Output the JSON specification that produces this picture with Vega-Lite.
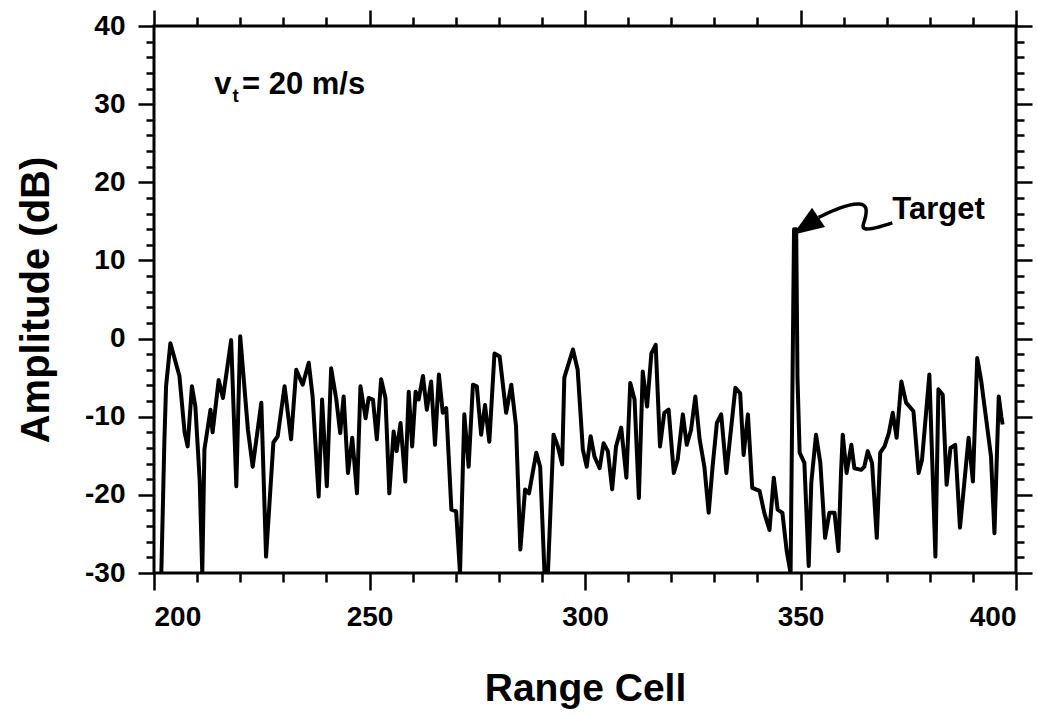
{
  "$schema": "https://vega.github.io/schema/vega-lite/v6.json",
  "width": 862,
  "height": 547,
  "autosize": "none",
  "padding": {"left": 154, "top": 26, "right": 21, "bottom": 144},
  "background": "white",
  "config": {
    "view": {"stroke": "black", "strokeWidth": 3},
    "axis": {"grid": false, "domain": false, "tickColor": "black", "tickWidth": 2.5, "labelColor": "black", "titleColor": "black", "labelFont": "Liberation Sans", "titleFont": "Liberation Sans", "labelFontWeight": "bold", "titleFontWeight": "bold", "labelExpr": "'' + datum.value"}
  },
  "datasets": {
    "sig": [
      {"cell": 201.7, "amp": -30}, {"cell": 202.4, "amp": -13.3}, {"cell": 202.8, "amp": -6.1}, {"cell": 203.8, "amp": -0.6},
      {"cell": 205.9, "amp": -4.8}, {"cell": 207.1, "amp": -12}, {"cell": 207.8, "amp": -13.8}, {"cell": 208.8, "amp": -6.1},
      {"cell": 209.6, "amp": -8.7}, {"cell": 210.6, "amp": -18.1}, {"cell": 211.2, "amp": -30}, {"cell": 211.7, "amp": -14.2},
      {"cell": 213.1, "amp": -9.1}, {"cell": 213.6, "amp": -12}, {"cell": 215, "amp": -5.3}, {"cell": 216, "amp": -7.6},
      {"cell": 217.9, "amp": -0.2}, {"cell": 219.1, "amp": -18.9}, {"cell": 220, "amp": 0.3}, {"cell": 221.8, "amp": -11.7},
      {"cell": 222.9, "amp": -16.4}, {"cell": 224.9, "amp": -8.2}, {"cell": 226, "amp": -27.9}, {"cell": 227.7, "amp": -13.3},
      {"cell": 228.7, "amp": -12.5}, {"cell": 230.3, "amp": -6.1}, {"cell": 231.8, "amp": -12.9}, {"cell": 233, "amp": -4},
      {"cell": 234.5, "amp": -5.9}, {"cell": 235.9, "amp": -3.1}, {"cell": 236.8, "amp": -7.4}, {"cell": 238.2, "amp": -20.2},
      {"cell": 239, "amp": -7.8}, {"cell": 240.1, "amp": -18.9}, {"cell": 241.1, "amp": -3.8}, {"cell": 242.3, "amp": -7.8},
      {"cell": 243.2, "amp": -12.1}, {"cell": 244, "amp": -7.4}, {"cell": 245, "amp": -17.2}, {"cell": 246, "amp": -12.7},
      {"cell": 247.1, "amp": -19.8}, {"cell": 247.9, "amp": -6.1}, {"cell": 249.1, "amp": -10.2}, {"cell": 249.8, "amp": -7.6},
      {"cell": 250.8, "amp": -7.8}, {"cell": 251.7, "amp": -12.9}, {"cell": 252.7, "amp": -5.2}, {"cell": 253.7, "amp": -7.6},
      {"cell": 254.6, "amp": -19.8}, {"cell": 255.6, "amp": -11.9}, {"cell": 256.3, "amp": -14.4}, {"cell": 257.2, "amp": -10.8},
      {"cell": 258.3, "amp": -18.3}, {"cell": 259.1, "amp": -6.8}, {"cell": 259.9, "amp": -13.8}, {"cell": 260.7, "amp": -6.8},
      {"cell": 261.4, "amp": -7.8}, {"cell": 262.4, "amp": -4.8}, {"cell": 263.3, "amp": -9.1}, {"cell": 264.3, "amp": -5.5},
      {"cell": 265.2, "amp": -13.6}, {"cell": 266.1, "amp": -4.6}, {"cell": 267, "amp": -9.5}, {"cell": 267.8, "amp": -8.9},
      {"cell": 269, "amp": -21.9}, {"cell": 270.1, "amp": -22.1}, {"cell": 271, "amp": -30}, {"cell": 272, "amp": -9.7},
      {"cell": 273, "amp": -16.4}, {"cell": 274, "amp": -5.9}, {"cell": 274.9, "amp": -6.1}, {"cell": 275.9, "amp": -12.3},
      {"cell": 276.8, "amp": -8.5}, {"cell": 277.8, "amp": -13.2}, {"cell": 279, "amp": -1.9}, {"cell": 280.2, "amp": -2.3},
      {"cell": 281.7, "amp": -9.5}, {"cell": 282.9, "amp": -5.9}, {"cell": 284, "amp": -11.2}, {"cell": 285, "amp": -27},
      {"cell": 286.1, "amp": -19.3}, {"cell": 287, "amp": -19.8}, {"cell": 288.7, "amp": -14.6}, {"cell": 289.6, "amp": -16.4},
      {"cell": 290.6, "amp": -30}, {"cell": 291.4, "amp": -30}, {"cell": 292.7, "amp": -12.3}, {"cell": 293.7, "amp": -13.8},
      {"cell": 294.7, "amp": -16.1}, {"cell": 295.2, "amp": -5}, {"cell": 297.2, "amp": -1.4}, {"cell": 298.3, "amp": -4},
      {"cell": 299.5, "amp": -14.2}, {"cell": 300.4, "amp": -16.4}, {"cell": 301.3, "amp": -12.5}, {"cell": 302.2, "amp": -15.1},
      {"cell": 303.4, "amp": -16.6}, {"cell": 304.3, "amp": -13.4}, {"cell": 305.3, "amp": -14.4}, {"cell": 306.3, "amp": -19.3},
      {"cell": 307.2, "amp": -13.8}, {"cell": 308.4, "amp": -11.4}, {"cell": 309.6, "amp": -17.8}, {"cell": 310.5, "amp": -5.7},
      {"cell": 311.5, "amp": -7.8}, {"cell": 312.5, "amp": -20.4}, {"cell": 313.4, "amp": -4.2}, {"cell": 314.4, "amp": -8.7},
      {"cell": 315.4, "amp": -1.9}, {"cell": 316.4, "amp": -0.8}, {"cell": 317.4, "amp": -13.8}, {"cell": 318.4, "amp": -9.5},
      {"cell": 319.4, "amp": -9.1}, {"cell": 320.6, "amp": -17.2}, {"cell": 321.5, "amp": -15.5}, {"cell": 322.7, "amp": -9.7},
      {"cell": 323.6, "amp": -13.6}, {"cell": 324.6, "amp": -11.7}, {"cell": 325.6, "amp": -7.4}, {"cell": 326.6, "amp": -12.9},
      {"cell": 327.7, "amp": -16.4}, {"cell": 328.7, "amp": -22.3}, {"cell": 329.6, "amp": -16.4}, {"cell": 330.6, "amp": -10.8},
      {"cell": 331.6, "amp": -9.7}, {"cell": 332.8, "amp": -17.2}, {"cell": 333.7, "amp": -12.5}, {"cell": 334.9, "amp": -6.3},
      {"cell": 336, "amp": -7}, {"cell": 336.8, "amp": -14.9}, {"cell": 337.8, "amp": -9.7}, {"cell": 338.8, "amp": -19.1},
      {"cell": 340.5, "amp": -19.5}, {"cell": 341.6, "amp": -22.3}, {"cell": 342.8, "amp": -24.5}, {"cell": 343.8, "amp": -17.8},
      {"cell": 344.7, "amp": -21.9}, {"cell": 345.8, "amp": -22.3}, {"cell": 346.8, "amp": -27.2}, {"cell": 347.7, "amp": -30},
      {"cell": 348.5, "amp": 14}, {"cell": 349, "amp": 14}, {"cell": 349.3, "amp": -5}, {"cell": 349.8, "amp": -14.6},
      {"cell": 350.9, "amp": -15.9}, {"cell": 351.9, "amp": -29.1}, {"cell": 352.5, "amp": -18.5}, {"cell": 353.6, "amp": -12.3},
      {"cell": 354.6, "amp": -15.9}, {"cell": 355.7, "amp": -25.5}, {"cell": 356.7, "amp": -22.3}, {"cell": 357.9, "amp": -22.3},
      {"cell": 358.8, "amp": -27.2}, {"cell": 359.4, "amp": -17.2}, {"cell": 359.8, "amp": -12.3}, {"cell": 360.7, "amp": -17.2},
      {"cell": 361.8, "amp": -13.6}, {"cell": 362.5, "amp": -16.6}, {"cell": 364.1, "amp": -16.8}, {"cell": 364.8, "amp": -16.4},
      {"cell": 365.6, "amp": -14.4}, {"cell": 366.6, "amp": -15.9}, {"cell": 367.7, "amp": -25.5}, {"cell": 368.5, "amp": -14.6},
      {"cell": 369.5, "amp": -13.8}, {"cell": 370.5, "amp": -12.1}, {"cell": 371.4, "amp": -9.5}, {"cell": 372.3, "amp": -12.7},
      {"cell": 373.4, "amp": -5.5}, {"cell": 374.5, "amp": -8.2}, {"cell": 376.2, "amp": -9.3}, {"cell": 377.4, "amp": -17.2},
      {"cell": 378.2, "amp": -15.5}, {"cell": 379.9, "amp": -4.6}, {"cell": 381.3, "amp": -27.9}, {"cell": 382, "amp": -6.5},
      {"cell": 383, "amp": -7.2}, {"cell": 383.9, "amp": -18.7}, {"cell": 384.8, "amp": -14}, {"cell": 385.9, "amp": -13.6},
      {"cell": 387, "amp": -24.2}, {"cell": 388, "amp": -18.5}, {"cell": 389, "amp": -12.7}, {"cell": 390, "amp": -18.3},
      {"cell": 391, "amp": -2.5}, {"cell": 391.9, "amp": -5.3}, {"cell": 393.1, "amp": -10.4}, {"cell": 394.2, "amp": -15.1},
      {"cell": 395, "amp": -24.9}, {"cell": 396, "amp": -7.4}, {"cell": 396.6, "amp": -10}, {"cell": 396.9, "amp": -11}
    ],
    "arrow": [
      {"cell": 354.2, "amp": 15.5, "ord": 1}, {"cell": 359.1, "amp": 16.8, "ord": 2}, {"cell": 363.7, "amp": 17.4, "ord": 3},
      {"cell": 365.6, "amp": 16.9, "ord": 4}, {"cell": 364.9, "amp": 15.0, "ord": 5}, {"cell": 364.1, "amp": 14.1, "ord": 6},
      {"cell": 366.1, "amp": 13.9, "ord": 7}, {"cell": 371.3, "amp": 14.8, "ord": 8}
    ],
    "head": [{"cell": 351.2, "amp": 14.4}],
    "notes": [
      {"cell": 214.0, "amp": 31.3, "label": "v", "kind": "main"},
      {"cell": 220.4, "amp": 31.3, "label": "= 20 m/s", "kind": "main"},
      {"cell": 218.2, "amp": 30.3, "label": "t", "kind": "sub"},
      {"cell": 371.3, "amp": 15.3, "label": "Target", "kind": "main"}
    ]
  },
  "resolve": {"axis": {"x": "independent", "y": "independent"}},
  "layer": [
    {
      "data": {"name": "sig"},
      "mark": {"type": "line", "color": "black", "strokeWidth": 4, "clip": true, "strokeJoin": "round"},
      "encoding": {
        "x": {"field": "cell", "type": "quantitative", "scale": {"domain": [200, 400], "nice": false, "zero": false},
          "axis": {"orient": "bottom", "values": [200, 250, 300, 350, 400], "tickSize": 17, "labelFontSize": 28, "labelPadding": 13, "labelDx": -6,
            "title": "Range Cell", "titleFontSize": 39, "titleY": 127, "titleBaseline": "alphabetic"}},
        "y": {"field": "amp", "type": "quantitative", "scale": {"domain": [-30, 40], "nice": false, "zero": false},
          "axis": {"orient": "left", "values": [-30, -20, -10, 0, 10, 20, 30, 40], "tickSize": 16, "labelFontSize": 28, "labelPadding": 13,
            "title": "Amplitude (dB)", "titleFontSize": 40, "titleX": -118, "titleBaseline": "middle"}}
      }
    },
    {
      "data": {"name": "sig"},
      "mark": {"type": "line", "opacity": 0},
      "encoding": {
        "x": {"field": "cell", "type": "quantitative", "scale": {"domain": [200, 400], "nice": false, "zero": false},
          "axis": {"orient": "bottom", "values": [210, 220, 230, 240, 260, 270, 280, 290, 310, 320, 330, 340, 360, 370, 380, 390], "tickSize": 9, "labels": false, "title": null}},
        "y": {"field": "amp", "type": "quantitative", "scale": {"domain": [-30, 40], "nice": false, "zero": false},
          "axis": {"orient": "left", "values": [-28, -26, -24, -22, -18, -16, -14, -12, -8, -6, -4, -2, 2, 4, 6, 8, 12, 14, 16, 18, 22, 24, 26, 28, 32, 34, 36, 38], "tickSize": 8, "labels": false, "title": null}}
      }
    },
    {
      "data": {"name": "sig"},
      "mark": {"type": "line", "opacity": 0},
      "encoding": {
        "x": {"field": "cell", "type": "quantitative", "scale": {"domain": [200, 400], "nice": false, "zero": false},
          "axis": {"orient": "top", "values": [200, 250, 300, 350, 400], "tickSize": 16, "labels": false, "title": null}},
        "y": {"field": "amp", "type": "quantitative", "scale": {"domain": [-30, 40], "nice": false, "zero": false},
          "axis": {"orient": "right", "values": [-30, -20, -10, 0, 10, 20, 30, 40], "tickSize": 16, "labels": false, "title": null}}
      }
    },
    {
      "data": {"name": "sig"},
      "mark": {"type": "line", "opacity": 0},
      "encoding": {
        "x": {"field": "cell", "type": "quantitative", "scale": {"domain": [200, 400], "nice": false, "zero": false},
          "axis": {"orient": "top", "values": [210, 220, 230, 240, 260, 270, 280, 290, 310, 320, 330, 340, 360, 370, 380, 390], "tickSize": 9, "labels": false, "title": null}},
        "y": {"field": "amp", "type": "quantitative", "scale": {"domain": [-30, 40], "nice": false, "zero": false},
          "axis": {"orient": "right", "values": [-28, -26, -24, -22, -18, -16, -14, -12, -8, -6, -4, -2, 2, 4, 6, 8, 12, 14, 16, 18, 22, 24, 26, 28, 32, 34, 36, 38], "tickSize": 8, "labels": false, "title": null}}
      }
    },
    {
      "data": {"name": "arrow"},
      "mark": {"type": "line", "color": "black", "strokeWidth": 3.5, "interpolate": "basis"},
      "encoding": {
        "x": {"field": "cell", "type": "quantitative", "axis": null},
        "y": {"field": "amp", "type": "quantitative", "axis": null},
        "order": {"field": "ord", "type": "quantitative"}
      }
    },
    {
      "data": {"name": "head"},
      "mark": {"type": "point", "shape": "M -1 0 L 1 -0.75 L 1 0.75 Z", "filled": true, "color": "black", "opacity": 1, "size": 960, "angle": -34},
      "encoding": {
        "x": {"field": "cell", "type": "quantitative", "axis": null},
        "y": {"field": "amp", "type": "quantitative", "axis": null}
      }
    },
    {
      "data": {"name": "notes"},
      "transform": [{"filter": "datum.kind === 'main'"}],
      "mark": {"type": "text", "align": "left", "baseline": "alphabetic", "font": "Liberation Sans", "fontWeight": "bold", "fontSize": 31, "color": "black"},
      "encoding": {
        "x": {"field": "cell", "type": "quantitative", "axis": null},
        "y": {"field": "amp", "type": "quantitative", "axis": null},
        "text": {"field": "label"}
      }
    },
    {
      "data": {"name": "notes"},
      "transform": [{"filter": "datum.kind === 'sub'"}],
      "mark": {"type": "text", "align": "left", "baseline": "alphabetic", "font": "Liberation Sans", "fontWeight": "bold", "fontSize": 19, "color": "black"},
      "encoding": {
        "x": {"field": "cell", "type": "quantitative", "axis": null},
        "y": {"field": "amp", "type": "quantitative", "axis": null},
        "text": {"field": "label"}
      }
    }
  ]
}
